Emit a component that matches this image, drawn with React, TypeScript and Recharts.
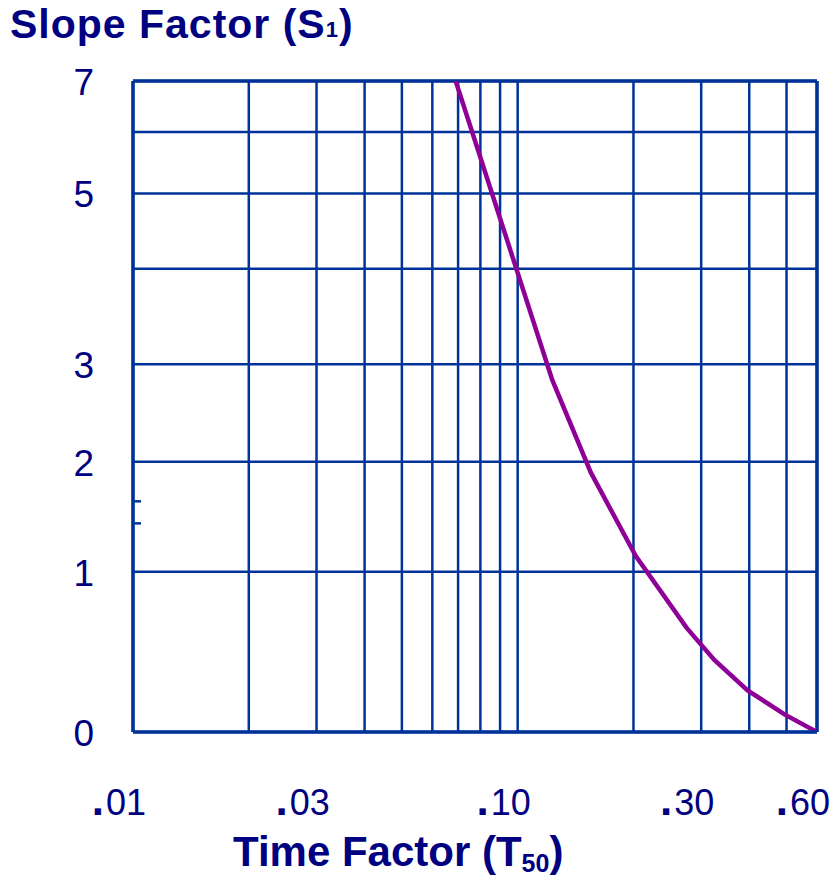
import { LineChart, Line, XAxis, YAxis, CartesianGrid, ReferenceLine, Label } from "recharts";

// curve vertices
const timeFactor = [0.069, 0.123, 0.155, 0.203, 0.275, 0.3245, 0.396, 0.494, 0.6];
const slopeFactor = [7, 2.84, 1.9, 1.14, 0.65, 0.45, 0.26, 0.11, 0];

const xGridTicks = [0.01, 0.02, 0.03, 0.04, 0.05, 0.06, 0.07, 0.08, 0.09, 0.1, 0.2, 0.3, 0.4, 0.5, 0.6];
const xLabelTicks = [0.01, 0.03, 0.1, 0.3, 0.6];
const xLabelText = [".01", ".03", ".10", ".30", ".60"];

// the S1 axis is not uniform: spacing of each printed grid line above 0
const yGridTicks = [0, 1, 2, 3, 4, 5, 6, 7];
const yGridSpacing = [0, 160.3, 270.6, 368, 463.6, 539, 600.6, 651.6];
const yLabelTicks = [0, 1, 2, 3, 5, 7];
const yMinorTicks = [1.44, 1.64];

const data = timeFactor.map((t, i) => ({ t, s: slopeFactor[i] }));

const INK = "#000080";
const GRID = "#003399";
const CURVE = "#8e0096";
const FONT = "'Liberation Sans', Arial, Helvetica, sans-serif";

function interp(v: number, from: number[], to: number[]) {
  let i = 1;
  while (i < from.length - 1 && v > from[i]) i++;
  const t = (v - from[i - 1]) / (from[i] - from[i - 1]);
  return to[i - 1] + t * (to[i] - to[i - 1]);
}

// piecewise scale with the d3 scale interface, so recharts can use it directly
function makeSlopeScale(): any {
  let dom = [0, 7];
  let rng = [0, 1];
  const pos = (v: number) => interp(v, yGridTicks, yGridSpacing);
  const s: any = (v: number) => {
    const h0 = pos(dom[0]);
    const h1 = pos(dom[dom.length - 1]);
    return rng[0] + ((pos(v) - h0) / (h1 - h0)) * (rng[rng.length - 1] - rng[0]);
  };
  s.domain = (d?: number[]) => {
    if (d === undefined) return dom.slice();
    dom = d.map(Number);
    return s;
  };
  s.range = (r?: number[]) => {
    if (r === undefined) return rng.slice();
    rng = r.map(Number);
    return s;
  };
  s.invert = (px: number) => {
    const h0 = pos(dom[0]);
    const h1 = pos(dom[dom.length - 1]);
    const h = h0 + ((px - rng[0]) / (rng[rng.length - 1] - rng[0])) * (h1 - h0);
    return interp(h, yGridSpacing, yGridTicks);
  };
  s.copy = () => makeSlopeScale().domain(dom).range(rng);
  s.ticks = () => yGridTicks.slice();
  s.tickFormat = () => (v: number) => String(v);
  s.nice = () => s;
  return s;
}

const slopeScale = makeSlopeScale();

const XTick = (props: any) => {
  const { x, y, payload } = props;
  const i = xLabelTicks.indexOf(payload.value);
  if (i < 0) return <g />;
  return (
    <text x={x - 14} y={y + 83} textAnchor="middle" fill={INK} fontSize={36} fontFamily={FONT}>
      <tspan fontWeight="bold" fontSize={44}>.</tspan>
      <tspan dx={2}>{xLabelText[i].slice(1)}</tspan>
    </text>
  );
};

const YTick = (props: any) => {
  const { x, y, payload } = props;
  if (!yLabelTicks.includes(payload.value)) return <g />;
  return (
    <text x={x - 39} y={y + 14} textAnchor="end" fill={INK} fontSize={37} fontFamily={FONT}>
      {payload.value}
    </text>
  );
};

const XTitle = (props: any) => {
  const vb = props.viewBox;
  return (
    <text x={vb.x + 100} y={vb.y + 134} fill={INK} fontSize={42} fontWeight="bold" fontFamily={FONT}>
      Time Factor (T<tspan fontSize={25} dy={6}>50</tspan>
      <tspan dy={-6}>)</tspan>
    </text>
  );
};

const YTitle = (props: any) => {
  const vb = props.viewBox;
  return (
    <text x={vb.x + 10} y={vb.y - 43} fill={INK} fontSize={41} fontWeight="bold" fontFamily={FONT} letterSpacing={1}>
      Slope Factor  (S<tspan fontSize={22} dy={-1}>1</tspan>
      <tspan dy={1}>)</tspan>
    </text>
  );
};

const MinorTick = (props: any) => (
  <line x1={props.x1} y1={props.y1} x2={props.x1 + 8} y2={props.y1} stroke={GRID} strokeWidth={2.5} />
);

export default function App() {
  return (
    <div style={{ position: "absolute", left: 0, top: 0, width: 831, height: 877, background: "#fff" }}>
      <LineChart width={831} height={877} data={data} margin={{ top: 81, right: 14, bottom: 0, left: 0 }}>
        <CartesianGrid stroke={GRID} strokeWidth={2.5} />
        <XAxis
          dataKey="t"
          type="number"
          scale="log"
          domain={[0.01, 0.6]}
          allowDataOverflow
          ticks={xGridTicks}
          interval={0}
          height={145}
          axisLine={{ stroke: GRID, strokeWidth: 3.5 }}
          tickLine={false}
          tickSize={0}
          tickMargin={0}
          tick={(p: any) => <XTick {...p} />}
        >
          <Label content={XTitle} />
        </XAxis>
        <YAxis
          type="number"
          scale={slopeScale}
          domain={[0, 7]}
          allowDataOverflow
          ticks={yGridTicks}
          interval={0}
          width={133}
          axisLine={{ stroke: GRID, strokeWidth: 3.5 }}
          tickLine={false}
          tickSize={0}
          tickMargin={0}
          tick={(p: any) => <YTick {...p} />}
        >
          <Label content={YTitle} />
        </YAxis>
        <ReferenceLine y={7} stroke={GRID} strokeWidth={3.5} />
        <ReferenceLine x={0.6} stroke={GRID} strokeWidth={3.5} />
        {yMinorTicks.map((v) => (
          <ReferenceLine key={v} y={v} shape={MinorTick} />
        ))}
        <Line
          type="linear"
          dataKey="s"
          stroke={CURVE}
          strokeWidth={4.5}
          dot={false}
          activeDot={false}
          isAnimationActive={false}
        />
      </LineChart>
    </div>
  );
}
